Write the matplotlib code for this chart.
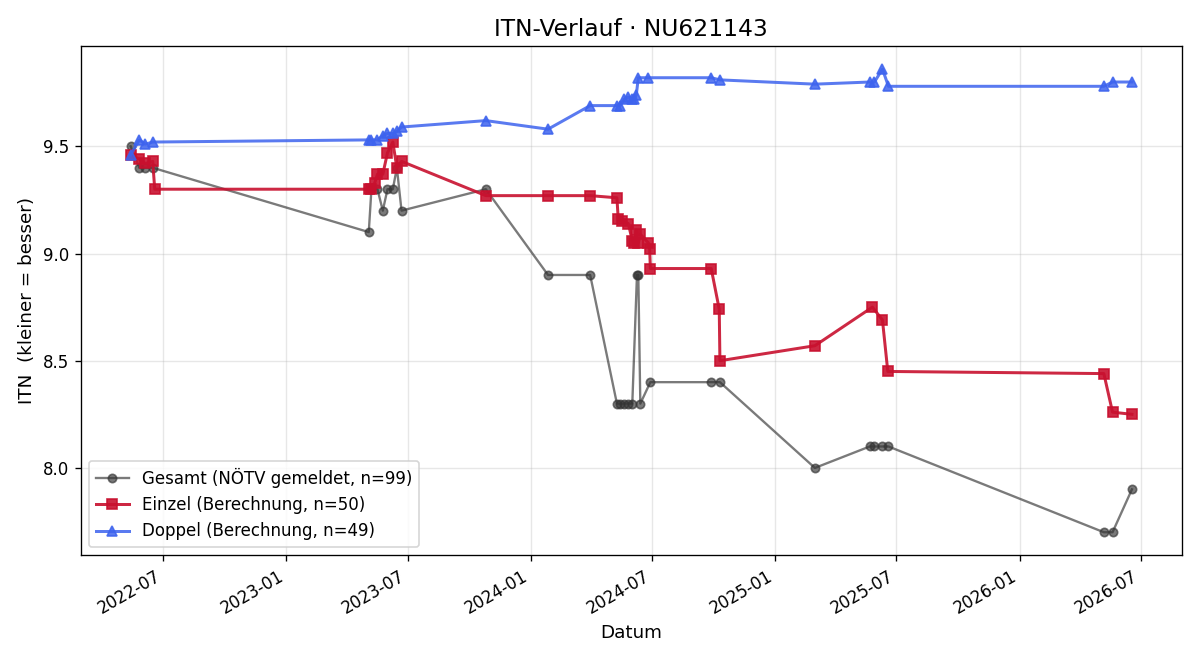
import pandas as pd
import matplotlib.pyplot as plt
import matplotlib.dates as mdates

# ITN history per series
gesamt_dates = ["2022-05-13", "2022-05-26", "2022-06-04", "2022-06-15",
                "2023-05-04", "2023-05-08", "2023-05-17", "2023-05-25", "2023-06-01",
                "2023-06-09", "2023-06-15", "2023-06-22", "2023-10-26",
                "2024-01-27", "2024-03-30", "2024-05-09", "2024-05-14", "2024-05-20",
                "2024-05-26", "2024-06-01", "2024-06-08", "2024-06-10", "2024-06-13",
                "2024-06-28", "2024-09-27", "2024-10-10", "2025-03-01", "2025-05-22",
                "2025-05-29", "2025-06-10", "2025-06-19", "2026-05-07", "2026-05-20",
                "2026-06-18"]
gesamt_itn = [9.5, 9.4, 9.4, 9.4,
              9.1, 9.3, 9.3, 9.2, 9.3,
              9.3, 9.4, 9.2, 9.3,
              8.9, 8.9, 8.3, 8.3, 8.3,
              8.3, 8.3, 8.9, 8.9, 8.3,
              8.4, 8.4, 8.4, 8.0, 8.1,
              8.1, 8.1, 8.1, 7.7, 7.7,
              7.9]

einzel_dates = ["2022-05-13", "2022-05-26", "2022-06-04", "2022-06-15", "2022-06-18",
                "2023-05-04", "2023-05-08", "2023-05-13", "2023-05-17", "2023-05-25",
                "2023-06-01", "2023-06-09", "2023-06-15", "2023-06-22", "2023-10-26",
                "2024-01-27", "2024-03-30", "2024-05-09", "2024-05-11", "2024-05-17",
                "2024-05-26", "2024-06-01", "2024-06-04", "2024-06-07", "2024-06-10",
                "2024-06-13", "2024-06-25", "2024-06-27", "2024-06-28", "2024-09-27",
                "2024-10-09", "2024-10-10", "2025-03-01", "2025-05-26", "2025-06-10",
                "2025-06-18", "2026-05-07", "2026-05-20", "2026-06-18"]
einzel_itn = [9.46, 9.44, 9.42, 9.43, 9.30,
              9.30, 9.30, 9.33, 9.37, 9.37,
              9.47, 9.52, 9.40, 9.43, 9.27,
              9.27, 9.27, 9.26, 9.16, 9.15,
              9.14, 9.06, 9.05, 9.11, 9.05,
              9.09, 9.05, 9.02, 8.93, 8.93,
              8.74, 8.50, 8.57, 8.75, 8.69,
              8.45, 8.44, 8.26, 8.25]

doppel_dates = ["2022-05-13", "2022-05-26", "2022-06-04", "2022-06-15",
                "2023-05-04", "2023-05-08", "2023-05-17", "2023-05-25", "2023-06-01",
                "2023-06-09", "2023-06-15", "2023-06-22", "2023-10-26",
                "2024-01-27", "2024-03-30", "2024-05-09", "2024-05-14", "2024-05-20",
                "2024-05-26", "2024-06-01", "2024-06-04", "2024-06-07", "2024-06-10",
                "2024-06-25", "2024-09-27", "2024-10-10", "2025-03-01", "2025-05-22",
                "2025-05-29", "2025-06-10", "2025-06-19", "2026-05-07", "2026-05-20",
                "2026-06-18"]
doppel_itn = [9.46, 9.53, 9.51, 9.52,
              9.53, 9.53, 9.53, 9.55, 9.56,
              9.56, 9.57, 9.59, 9.62,
              9.58, 9.69, 9.69, 9.69, 9.72,
              9.73, 9.72, 9.72, 9.74, 9.82,
              9.82, 9.82, 9.81, 9.79, 9.80,
              9.80, 9.86, 9.78, 9.78, 9.80,
              9.80]

gesamt = pd.Series(gesamt_itn, index=pd.to_datetime(gesamt_dates))
einzel = pd.Series(einzel_itn, index=pd.to_datetime(einzel_dates))
doppel = pd.Series(doppel_itn, index=pd.to_datetime(doppel_dates))

fig, ax = plt.subplots(figsize=(10, 5.5), dpi=120)

ax.plot(gesamt.index, gesamt.values, color="#333333", alpha=0.65,
        marker="o", markersize=5, linewidth=1.4,
        label="Gesamt (NÖTV gemeldet, n=99)")
ax.plot(einzel.index, einzel.values, color="#c8102e", alpha=0.9,
        marker="s", markersize=6, linewidth=1.8,
        label="Einzel (Berechnung, n=50)")
ax.plot(doppel.index, doppel.values, color="#3d63ee", alpha=0.85,
        marker="^", markersize=6, linewidth=1.8,
        label="Doppel (Berechnung, n=49)")

ax.set_title("ITN-Verlauf · NU621143", fontsize=14)
ax.set_xlabel("Datum", fontsize=11)
ax.set_ylabel("ITN  (kleiner = besser)", fontsize=11)
ax.grid(True, alpha=0.3)
ax.legend(loc="lower left")

ax.xaxis.set_major_locator(mdates.MonthLocator(bymonth=[1, 7]))
ax.xaxis.set_major_formatter(mdates.DateFormatter("%Y-%m"))
fig.autofmt_xdate()

plt.tight_layout()
plt.savefig("out.png")
